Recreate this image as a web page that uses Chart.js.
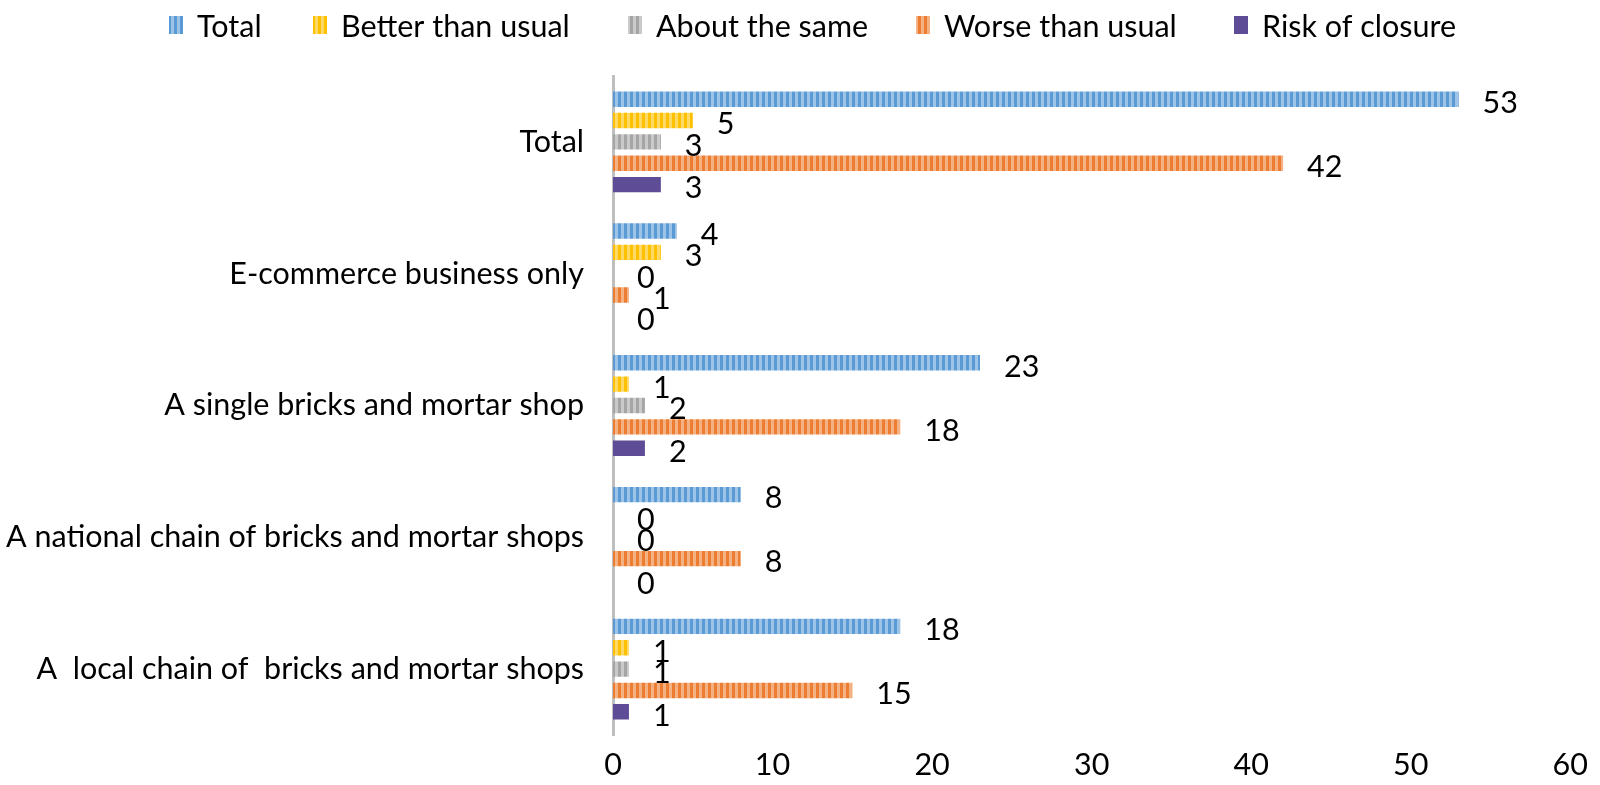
<!DOCTYPE html>
<html>
<head>
<meta charset="utf-8">
<script src="https://cdn.jsdelivr.net/npm/chart.js@4.4.1/dist/chart.umd.min.js"></script>
<style>
  html, body { margin: 0; padding: 0; background: #fff; }
  #wrap { width: 1600px; height: 785px; }
</style>
</head>
<body>
<div id="wrap"><canvas id="chart" width="1600" height="785"></canvas></div>
<script>
// Chart data
const categories = [
    'Total',
    'E-commerce business only',
    'A single bricks and mortar shop',
    'A national chain of bricks and mortar shops',
    'A  local chain of  bricks and mortar shops'
];
const seriesNames = ['Total', 'Better than usual', 'About the same', 'Worse than usual', 'Risk of closure'];
const totalValues = [53, 4, 23, 8, 18];
const betterValues = [5, 3, 1, 0, 1];
const sameValues = [3, 0, 2, 0, 1];
const worseValues = [42, 1, 18, 8, 15];
const riskValues = [3, 0, 2, 0, 1];
const xTicks = [0, 10, 20, 30, 40, 50, 60];

const FONT_FAMILY = 'Lato, "Open Sans", sans-serif';
const FONT_SIZE = 30.5;

// Striped fills like the original
function makeStripes(dark, light) {
    const c = document.createElement('canvas');
    c.width = 6;
    c.height = 1;
    const g = c.getContext('2d');
    g.fillStyle = dark;
    g.fillRect(0, 0, 3, 1);
    g.fillStyle = light;
    g.fillRect(3, 0, 3, 1);
    return g.createPattern(c, 'repeat');
}

const fills = [
    makeStripes('#5B9BD5', '#9DC3E6'),
    makeStripes('#FFC000', '#FFD966'),
    makeStripes('#A5A5A5', '#CACACA'),
    makeStripes('#ED7D31', '#F4B183'),
    '#5E4C96'
];

const allValues = [totalValues, betterValues, sameValues, worseValues, riskValues];

// Value labels at the end of each bar
const valueLabels = {
    id: 'valueLabels',
    afterDatasetsDraw(chart) {
        const ctx = chart.ctx;
        ctx.save();
        ctx.font = FONT_SIZE + 'px ' + FONT_FAMILY;
        ctx.fillStyle = '#000';
        ctx.textAlign = 'left';
        ctx.textBaseline = 'middle';
        chart.data.datasets.forEach((ds, i) => {
            const meta = chart.getDatasetMeta(i);
            meta.data.forEach((bar, j) => {
                ctx.fillText(String(ds.data[j]), bar.x + 24, bar.y + 4);
            });
        });
        ctx.restore();
    }
};

// Legend drawn across the top
const topLegend = {
    id: 'topLegend',
    afterDraw(chart) {
        const ctx = chart.ctx;
        const boxX = [169, 313, 628, 916, 1234];
        const cy = 25;
        ctx.save();
        ctx.font = FONT_SIZE + 'px ' + FONT_FAMILY;
        ctx.textAlign = 'left';
        ctx.textBaseline = 'middle';
        chart.data.datasets.forEach((ds, i) => {
            ctx.fillStyle = ds.backgroundColor;
            ctx.fillRect(boxX[i], cy - 9, 14, 18);
            ctx.fillStyle = '#000';
            ctx.fillText(ds.label, boxX[i] + 28, cy + 2);
        });
        ctx.restore();
    }
};

new Chart(document.getElementById('chart').getContext('2d'), {
    type: 'bar',
    data: {
        labels: categories,
        datasets: seriesNames.map((name, i) => ({
            label: name,
            data: allValues[i],
            backgroundColor: fills[i],
            borderWidth: 0,
            categoryPercentage: 0.81,
            barPercentage: 0.72
        }))
    },
    options: {
        indexAxis: 'y',
        responsive: false,
        animation: false,
        layout: {
            padding: { top: 76, right: 23, bottom: 0, left: 0 }
        },
        plugins: {
            legend: { display: false },
            tooltip: { enabled: false }
        },
        scales: {
            x: {
                min: 0,
                max: 60,
                afterBuildTicks: scale => {
                    scale.ticks = xTicks.map(v => ({ value: v }));
                },
                afterFit: scale => {
                    scale.height = 50;
                },
                grid: { display: false, drawTicks: false },
                border: { display: false },
                ticks: {
                    padding: 12,
                    color: '#000',
                    font: { family: FONT_FAMILY, size: FONT_SIZE }
                }
            },
            y: {
                afterFit: scale => {
                    scale.width = 613;
                },
                grid: { display: false, drawTicks: false },
                border: { display: true, color: '#BFBFBF', width: 3 },
                ticks: {
                    padding: 29,
                    color: '#000',
                    font: { family: FONT_FAMILY, size: FONT_SIZE }
                }
            }
        }
    },
    plugins: [valueLabels, topLegend]
});
</script>
</body>
</html>
